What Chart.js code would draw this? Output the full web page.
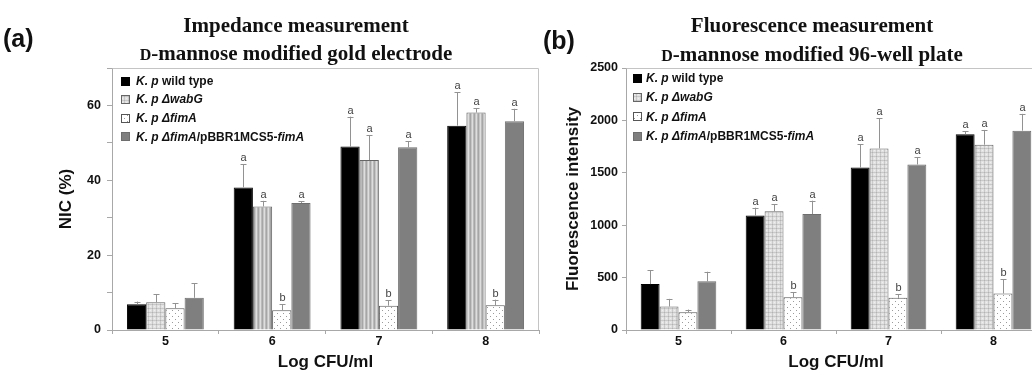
<!DOCTYPE html>
<html><head><meta charset="utf-8">
<script src="https://cdn.jsdelivr.net/npm/chart.js@4.4.0/dist/chart.umd.min.js"></script>
<style>
html,body{margin:0;padding:0;background:#fff;}
#wrap{position:relative;width:1032px;height:372px;overflow:hidden;background:#fff;}
#c1{position:absolute;left:0;top:0;}
#c2{position:absolute;left:516px;top:0;}
</style></head><body>
<div id="wrap"><canvas id="c2" width="540" height="372"></canvas><canvas id="c1" width="545" height="372"></canvas></div>
<script>
// ---------- data ----------
const categories = ['5', '6', '7', '8'];
const seriesNames = ['K. p wild type', 'K. p ΔwabG', 'K. p ΔfimA', 'K. p ΔfimA/pBBR1MCS5-fimA'];
// legend pieces: [text, italic?]
const legendParts = [
  [['K. p ', 1], ['wild type', 0]],
  [['K. p ΔwabG', 1]],
  [['K. p ΔfimA', 1]],
  [['K. p ΔfimA', 1], ['/pBBR1MCS5-', 0], ['fimA', 1]]
];

// (a) Impedance, NIC (%)
const nicWild = [6.9, 38.1, 49.0, 54.6];
const nicWabG = [7.4, 33.0, 45.4, 58.1];
const nicFimA = [5.8, 5.3, 6.5, 6.6];
const nicComp = [8.6, 33.9, 48.8, 55.8];
const nicWildErr = [0.7, 6.2, 8.0, 8.9];
const nicWabGErr = [2.1, 1.5, 6.7, 1.2];
const nicFimAErr = [1.3, 1.6, 1.5, 1.5];
const nicCompErr = [3.9, 0.5, 1.7, 3.3];
const nicWildLetters = ['', 'a', 'a', 'a'];
const nicWabGLetters = ['', 'a', 'a', 'a'];
const nicFimALetters = ['', 'b', 'b', 'b'];
const nicCompLetters = ['', 'a', 'a', 'a'];

// (b) Fluorescence intensity
const fluWild = [438, 1093, 1550, 1867];
const fluWabG = [224, 1132, 1733, 1768];
const fluFimA = [169, 313, 307, 348];
const fluComp = [464, 1106, 1579, 1902];
const fluWildErr = [134, 74, 221, 29];
const fluWabGErr = [73, 67, 287, 141];
const fluFimAErr = [26, 48, 35, 138];
const fluCompErr = [92, 128, 67, 160];
const fluWildLetters = ['', 'a', 'a', 'a'];
const fluWabGLetters = ['', 'a', 'a', 'a'];
const fluFimALetters = ['', 'b', 'b', 'b'];
const fluCompLetters = ['', 'a', 'a', 'a'];

const nicAll = [0, 10, 20, 30, 40, 50, 60, 70];
const nicTicks = [0, 20, 40, 60];
const fluTicks = [0, 500, 1000, 1500, 2000, 2500];

// ---------- styles ----------
const SANS = '"Liberation Sans", Arial, Helvetica, sans-serif';
const SERIF = '"Liberation Serif", "Times New Roman", Times, serif';
Chart.defaults.font.family = SANS;
Chart.defaults.color = '#111';

function mkTile(w, h, fn) {
  const c = document.createElement('canvas'); c.width = w; c.height = h;
  const g = c.getContext('2d'); fn(g); return g.createPattern(c, 'repeat');
}
const plaid = mkTile(4, 4, g => {
  g.fillStyle = '#e2e2e2'; g.fillRect(0, 0, 4, 4);
  g.fillStyle = '#c9c9c9'; g.fillRect(0, 0, 4, 1); g.fillRect(0, 0, 1, 4);
  g.fillStyle = '#b3b3b3'; g.fillRect(0, 0, 1, 1);
  g.fillStyle = '#efefef'; g.fillRect(2, 2, 1, 1);
});
const stripes = mkTile(4, 1, g => {
  ['#dedede', '#bababa', '#a6a6a6', '#c6c6c6'].forEach((c, i) => { g.fillStyle = c; g.fillRect(i, 0, 1, 1); });
});
const dots = mkTile(6, 6, g => {
  g.fillStyle = '#ffffff'; g.fillRect(0, 0, 6, 6);
  g.fillStyle = '#9a9a9a'; g.fillRect(1, 1, 1, 1); g.fillRect(4, 4, 1, 1);
});
const legendFills = ['#000000', plaid, dots, '#7f7f7f'];
const legendBorders = ['#000000', '#666666', '#555555', '#6e6e6e'];

// ---------- plugin: frame, error bars, letters, titles, legend ----------
function drawParts(ctx, parts, x, y, align) {
  let total = 0;
  parts.forEach(p => { ctx.font = p.font; total += ctx.measureText(p.text).width; });
  let cx = align === 'center' ? x - total / 2 : x;
  ctx.textAlign = 'left';
  parts.forEach(p => { ctx.font = p.font; ctx.fillText(p.text, cx, y); cx += ctx.measureText(p.text).width; });
}

const decor = {
  id: 'decor',
  beforeDatasetsDraw(chart, args, o) {
    const a = chart.chartArea, ctx = chart.ctx;
    ctx.save();
    ctx.strokeStyle = o.frameColor; ctx.lineWidth = 1;
    ctx.beginPath();
    ctx.moveTo(Math.round(a.left) + 0.5, Math.round(a.top) + 0.5);
    ctx.lineTo(Math.round(a.right) - 0.5, Math.round(a.top) + 0.5);
    ctx.lineTo(Math.round(a.right) - 0.5, Math.round(a.bottom));
    ctx.stroke();
    ctx.restore();
  },
  afterDatasetsDraw(chart, args, o) {
    const ctx = chart.ctx, ys = chart.scales.y;
    ctx.save();
    chart.data.datasets.forEach((ds, i) => {
      const meta = chart.getDatasetMeta(i);
      meta.data.forEach((el, j) => {
        const x = Math.round(el.x) + 0.5;
        const yTop = ys.getPixelForValue(ds.data[j] + ds.errs[j]);
        ctx.strokeStyle = o.errColor; ctx.lineWidth = 1;
        ctx.beginPath();
        ctx.moveTo(x, el.y); ctx.lineTo(x, yTop);
        ctx.moveTo(x - 3, Math.round(yTop) + 0.5); ctx.lineTo(x + 3, Math.round(yTop) + 0.5);
        ctx.stroke();
        const L = ds.letters[j];
        if (L) {
          ctx.fillStyle = o.letterColor; ctx.font = o.letterFont;
          ctx.textAlign = 'center'; ctx.textBaseline = 'alphabetic';
          ctx.fillText(L, x, yTop - 3);
        }
      });
    });
    ctx.restore();
  },
  afterDraw(chart, args, o) {
    const ctx = chart.ctx, a = chart.chartArea;
    ctx.save();
    ctx.fillStyle = '#111'; ctx.textBaseline = 'alphabetic';
    // panel label
    ctx.font = 'bold 25px ' + SANS; ctx.textAlign = 'left';
    ctx.fillText(o.panel, o.panelX, o.panelY);
    // titles
    const tf = 'bold ' + o.titleSize + 'px ' + SERIF;
    const sf = 'bold ' + Math.round(o.titleSize * 0.78) + 'px ' + SERIF;
    drawParts(ctx, [{ text: o.title1, font: tf }], o.titleX, o.titleY1, 'center');
    drawParts(ctx, [{ text: 'D', font: sf }, { text: o.title2, font: tf }], o.titleX, o.titleY2, 'center');
    // legend
    const lx = a.left + o.legendDX;
    ctx.textBaseline = 'middle';
    legendParts.forEach((parts, i) => {
      const ry = o.legendY + i * o.legendStep;
      ctx.fillStyle = legendFills[i];
      ctx.fillRect(lx, Math.round(ry - 4.5), 9, 9);
      ctx.strokeStyle = legendBorders[i]; ctx.lineWidth = 1;
      ctx.strokeRect(lx + 0.5, Math.round(ry - 4.5) + 0.5, 8, 8);
      ctx.fillStyle = '#111';
      drawParts(ctx, parts.map(p => ({ text: p[0], font: (p[1] ? 'italic ' : '') + 'bold 12px ' + SANS })), lx + o.legendTextDX, ry + 0.5, 'left');
    });
    ctx.restore();
  }
};

function makeDatasets(vals, errs, letters, wabgFill) {
  const fills = ['#000000', wabgFill, dots, '#7f7f7f'];
  return vals.map((v, i) => ({
    label: seriesNames[i], data: v, errs: errs[i], letters: letters[i],
    backgroundColor: fills[i], borderColor: legendBorders[i], borderWidth: 1
  }));
}

function axisCommon() {
  return {
    x: {
      type: 'category', offset: true,
      grid: { offset: true, drawOnChartArea: false, drawTicks: true, tickLength: 4, color: '#a8a8a8' },
      border: { color: '#a8a8a8' },
      ticks: { font: { size: 12.5, weight: 'bold' }, color: '#111', padding: 0, maxRotation: 0 },
      title: { display: true, text: 'Log CFU/ml', font: { size: 17, weight: 'bold', lineHeight: 1 }, color: '#111', padding: { top: 0, bottom: 1 } },
      afterFit: s => { s.height = 42; }
    }
  };
}

function build(canvasId, cfg) {
  const scales = axisCommon();
  scales.y = {
    min: 0, max: cfg.max,
    afterBuildTicks: s => { s.ticks = cfg.tickVals.map(v => ({ value: v })); },
    ticks: { font: { size: 12.5, weight: 'bold' }, color: '#111', padding: cfg.yPad,
      callback: v => (cfg.labelTicks.includes(v) ? v : '') },
    grid: { drawOnChartArea: false, tickLength: cfg.yTick, color: '#a8a8a8' },
    border: { color: '#a8a8a8' },
    title: { display: true, text: cfg.yTitle, font: { size: 17, weight: 'bold' }, color: '#111', padding: { top: cfg.yTitlePad, bottom: 0 } },
    afterFit: s => { s.width = cfg.yWidth; }
  };
  return new Chart(document.getElementById(canvasId), {
    type: 'bar',
    data: { labels: categories, datasets: cfg.datasets },
    options: {
      responsive: false, animation: false, devicePixelRatio: 1,
      layout: { padding: cfg.padding },
      datasets: { bar: { categoryPercentage: 0.72, barPercentage: 1.0 } },
      plugins: { legend: { display: false }, tooltip: { enabled: false }, title: { display: false }, decor: cfg.decor },
      scales
    },
    plugins: [decor]
  });
}

build('c1', {
  max: 70, tickVals: nicAll, labelTicks: nicTicks, yPad: 6, yTick: 5, yWidth: 60, yTitlePad: 4,
  yTitle: 'NIC (%)',
  padding: { left: 52, right: 6, top: 68, bottom: 0 },
  datasets: makeDatasets([nicWild, nicWabG, nicFimA, nicComp], [nicWildErr, nicWabGErr, nicFimAErr, nicCompErr],
    [nicWildLetters, nicWabGLetters, nicFimALetters, nicCompLetters], [plaid, stripes, stripes, stripes]),
  decor: {
    frameColor: '#c4c4c4', errColor: '#929292', letterColor: '#444', letterFont: '11px ' + SANS,
    panel: '(a)', panelX: 3, panelY: 47,
    title1: 'Impedance measurement', title2: '-mannose modified gold electrode',
    titleSize: 21, titleX: 296, titleY1: 32, titleY2: 60,
    legendDX: 9, legendY: 81, legendStep: 18.6, legendTextDX: 15
  }
});

build('c2', {
  max: 2500, tickVals: fluTicks, labelTicks: fluTicks, yPad: 4, yTick: 4, yWidth: 66, yTitlePad: 3,
  yTitle: 'Fluorescence intensity',
  padding: { left: 44, right: 10, top: 68, bottom: 0 },
  datasets: makeDatasets([fluWild, fluWabG, fluFimA, fluComp], [fluWildErr, fluWabGErr, fluFimAErr, fluCompErr],
    [fluWildLetters, fluWabGLetters, fluFimALetters, fluCompLetters], plaid),
  decor: {
    frameColor: '#c4c4c4', errColor: '#929292', letterColor: '#444', letterFont: '11px ' + SANS,
    panel: '(b)', panelX: 27, panelY: 49,
    title1: 'Fluorescence measurement', title2: '-mannose modified 96-well plate',
    titleSize: 21, titleX: 296, titleY1: 32, titleY2: 61,
    legendDX: 7, legendY: 78, legendStep: 19.4, legendTextDX: 13
  }
});
</script>
</body></html>
